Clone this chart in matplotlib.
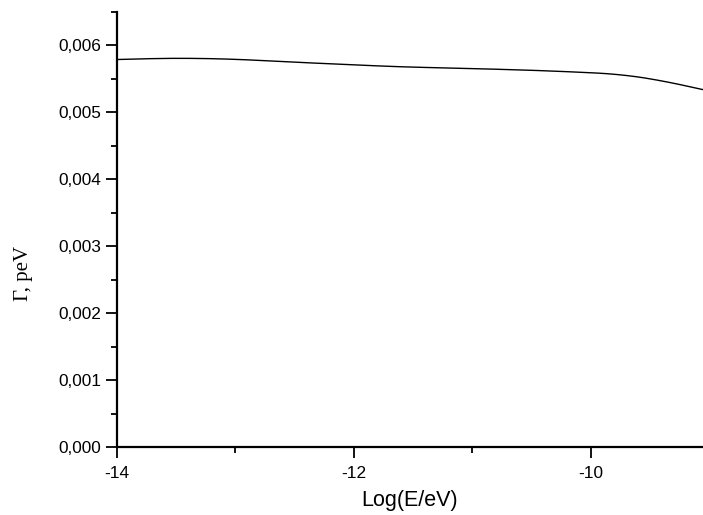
import numpy as np
import matplotlib.pyplot as plt
from matplotlib.ticker import MultipleLocator, FuncFormatter

# curve
log_e = [-14.0, -13.7, -13.4, -13.0, -12.5, -12.0, -11.6, -11.0, -10.5, -10.08, -9.75, -9.41, -9.05]
gamma = [0.00579, 0.005805, 0.00581, 0.005795, 0.00575, 0.00571, 0.00568, 0.005655, 0.00563, 0.00560, 0.00557, 0.00548, 0.00534]

plt.rcParams['font.family'] = ['Liberation Sans', 'DejaVu Sans']

fig = plt.figure(figsize=(7.03, 5.15), dpi=100)
ax = fig.add_axes([117/703, 68/515, 586/703, 435/515])

# smooth the read points a little
xs = np.linspace(log_e[0], log_e[-1], 300)
ys = np.interp(xs, log_e, gamma)
k = np.ones(25) / 25
ys_s = np.convolve(np.pad(ys, 12, mode='reflect', reflect_type='odd'), k, mode='valid')
ax.plot(xs, ys_s, color='black', lw=1.0)

ax.set_xlim(-14, -9.05)
ax.set_ylim(0, 0.0065)

ax.spines['top'].set_visible(False)
ax.spines['right'].set_visible(False)
ax.spines['left'].set_linewidth(1.6)
ax.spines['bottom'].set_linewidth(1.6)

ax.xaxis.set_major_locator(MultipleLocator(2))
ax.xaxis.set_minor_locator(MultipleLocator(1))
ax.yaxis.set_major_locator(MultipleLocator(0.001))
ax.yaxis.set_minor_locator(MultipleLocator(0.0005))
ax.yaxis.set_major_formatter(FuncFormatter(lambda v, p: f"{v:.3f}".replace('.', ',')))
ax.xaxis.set_major_formatter(FuncFormatter(lambda v, p: f"{v:g}".replace('\u2212', '-')))

ax.tick_params(which='major', length=8, width=1.3, labelsize=12.4, direction='out')
ax.tick_params(which='minor', length=4, width=1.3, direction='out')
ax.tick_params(axis='x', pad=6)

ax.set_xlabel('Log(E/eV)', fontsize=15.5, labelpad=6)
ax.set_ylabel('Γ, peV', fontsize=15, family='Liberation Serif', labelpad=18, y=0.4)

fig.savefig('out.png', dpi=100)
